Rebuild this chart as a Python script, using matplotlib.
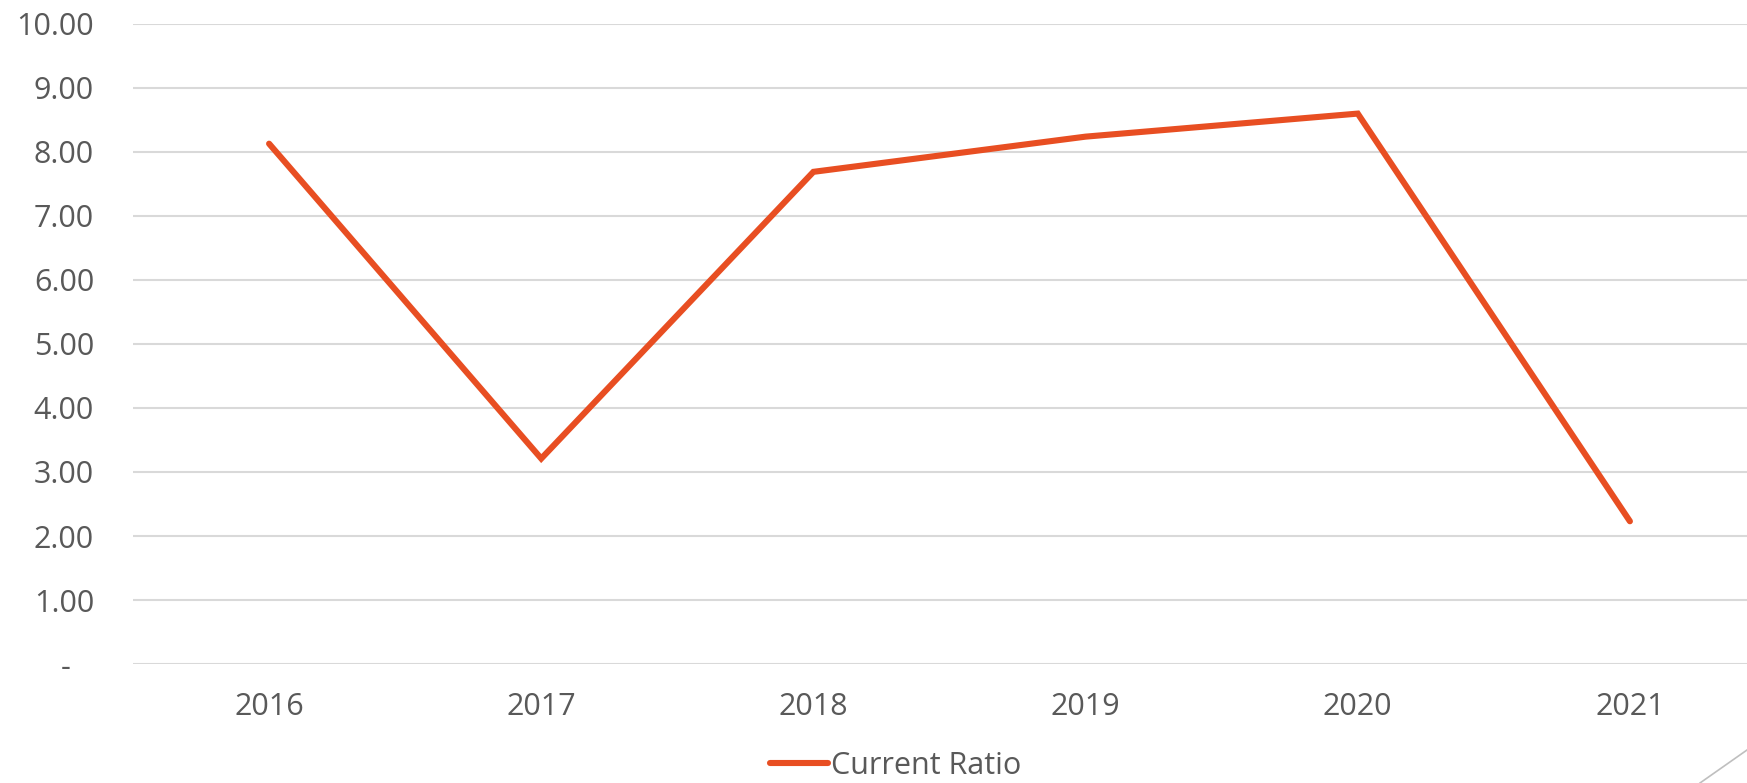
import matplotlib
matplotlib.use('Agg')
import matplotlib.pyplot as plt
from matplotlib.lines import Line2D

years = ['2016', '2017', '2018', '2019', '2020', '2021']
current_ratio = [8.13, 3.21, 7.69, 8.24, 8.60, 2.23]
y_ticks = [0, 1, 2, 3, 4, 5, 6, 7, 8, 9, 10]
# accounting style: zero shown as a dash, set in from the right
y_labels = ['-   '] + ['%.2f' % v for v in y_ticks[1:]]

line_color = '#E84E22'
text_color = '#595959'
grid_color = '#D9D9D9'

plt.rcParams['font.family'] = ['Open Sans', 'DejaVu Sans']

fig = plt.figure(figsize=(17.47, 7.83), dpi=100)
# axes runs past the right edge, the source chart is cropped there
ax = fig.add_axes([133 / 1747, 1 - 664 / 783, 1633 / 1747, 640 / 783])

x = list(range(len(years)))
ax.plot(x, current_ratio, color=line_color, linewidth=4.4,
        solid_capstyle='round', solid_joinstyle='miter', zorder=3)

ax.set_xlim(-0.5, len(years) - 0.5)
ax.set_ylim(0, 10)
ax.set_yticks(y_ticks)
ax.set_yticklabels(y_labels)
ax.set_xticks(x)
ax.set_xticklabels(years)

ax.grid(axis='y', color=grid_color, linewidth=1.5)
ax.set_axisbelow(True)
for s in ax.spines.values():
    s.set_visible(False)
ax.tick_params(axis='both', length=0, labelsize=22, colors=text_color)
ax.tick_params(axis='y', pad=28)
ax.tick_params(axis='x', pad=20)

# legend below the plot
leg_handle = Line2D([0], [0], color=line_color, linewidth=4.4, solid_capstyle='round')
fig.legend([leg_handle], ['Current Ratio'], loc='center', bbox_to_anchor=(896 / 1747, 1 - 766 / 783),
           frameon=False, fontsize=22, labelcolor=text_color, handlelength=1.9,
           handletextpad=0.1, borderaxespad=0)

# thin decorative stroke in the bottom right corner
fig.add_artist(Line2D([1700 / 1747, 1.0], [0, 1 - 750 / 783], transform=fig.transFigure,
                      color='#BFBFBF', linewidth=1.2))

fig.savefig('out.png', dpi=100)
